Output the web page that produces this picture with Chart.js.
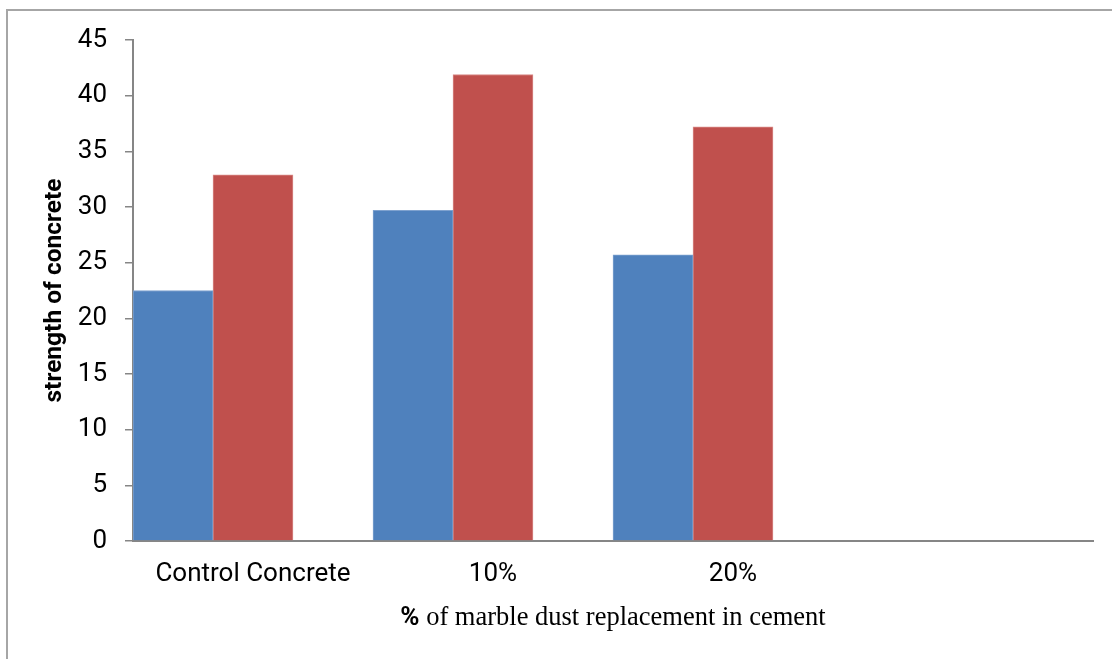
<!DOCTYPE html>
<html><head><meta charset="utf-8">
<script src="https://cdn.jsdelivr.net/npm/chart.js@4"></script>
<style>
html,body{margin:0;padding:0;background:#fff;}
#wrap{position:relative;width:1112px;height:659px;overflow:hidden;}
#frame{position:absolute;left:6px;top:9px;width:1200px;height:800px;border:2px solid #a6a6a6;box-sizing:border-box;}
#c{position:absolute;left:0;top:0;}
</style></head><body>
<div id="wrap"><div id="frame"></div><canvas id="c"></canvas></div>
<script>
// ---- data ----
const categories = ['Control Concrete', '10%', '20%', ''];
const seriesA = [22.5, 29.7, 25.7, null];
const seriesB = [32.9, 41.9, 37.2, null];
const seriesC = [null, null, null, null];
const seriesNames = ['Series1', 'Series2', 'Series3'];
const yMin = 0, yMax = 45, yStep = 5;
const yTitle = 'strength of concrete';
const xTitleBold = '%';
const xTitleRest = ' of marble dust replacement in cement';

const TICKFONT = 'Roboto, "Liberation Sans", sans-serif';

const titlePlugin = {
  id: 'titles',
  afterDraw(chart) {
    const ctx = chart.ctx, a = chart.chartArea;
    ctx.save();
    ctx.fillStyle = '#000';
    ctx.translate(55, (a.top + a.bottom) / 2);
    ctx.rotate(-Math.PI / 2);
    ctx.font = 'bold 24.5px Roboto, "Liberation Sans", sans-serif';
    ctx.textAlign = 'center';
    ctx.textBaseline = 'middle';
    ctx.fillText(yTitle, 0, 0);
    ctx.restore();

    ctx.save();
    ctx.fillStyle = '#000';
    ctx.textBaseline = 'alphabetic';
    ctx.textAlign = 'left';
    const fb = 'bold 26px Roboto, "Liberation Sans", sans-serif';
    const fr = '26.5px "Liberation Serif", "Times New Roman", serif';
    ctx.font = fb; const wb = ctx.measureText(xTitleBold).width;
    ctx.font = fr; const wr = ctx.measureText(xTitleRest).width;
    const cx = (a.left + a.right) / 2;
    let x = cx - (wb + wr) / 2;
    const y = 625;
    ctx.font = fb; ctx.fillText(xTitleBold, x, y);
    ctx.font = fr; ctx.fillText(xTitleRest, x + wb, y);
    ctx.restore();
  }
};

new Chart(document.getElementById('c'), {
  type: 'bar',
  data: {
    labels: categories,
    datasets: [
      { label: seriesNames[0], data: seriesA, backgroundColor: '#4F81BD', borderColor: '#7FA2CF', borderWidth: 1, borderSkipped: 'bottom' },
      { label: seriesNames[1], data: seriesB, backgroundColor: '#C0504D', borderColor: '#D98A88', borderWidth: 1, borderSkipped: 'bottom' },
      { label: seriesNames[2], data: seriesC, backgroundColor: '#9BBB59' }
    ]
  },
  options: {
    responsive: true,
    maintainAspectRatio: false,
    animation: false,
    layout: { padding: { left: 0, right: 19, top: 40, bottom: 0 } },
    plugins: { legend: { display: false }, tooltip: { enabled: false }, title: { display: false } },
    datasets: { bar: { categoryPercentage: 1.0, barPercentage: 1.0 } },
    scales: {
      x: {
        grid: { display: true, drawOnChartArea: false, drawTicks: false, color: '#868686' },
        border: { display: true, color: '#868686', width: 2 },
        ticks: { color: '#000', font: { family: TICKFONT, size: 26 }, padding: 18, maxRotation: 0, autoSkip: false },
        afterFit(scale) { scale.height = 118; }
      },
      y: {
        min: yMin, max: yMax,
        grid: { display: true, drawOnChartArea: false, drawTicks: true, tickLength: 8, color: '#868686', lineWidth: 1.5 },
        border: { display: true, color: '#868686', width: 2 },
        ticks: { stepSize: yStep, color: '#000', font: { family: TICKFONT, size: 26 }, padding: 18 },
        afterFit(scale) { scale.width = 133; }
      }
    }
  },
  plugins: [titlePlugin]
});
</script>
</body></html>
